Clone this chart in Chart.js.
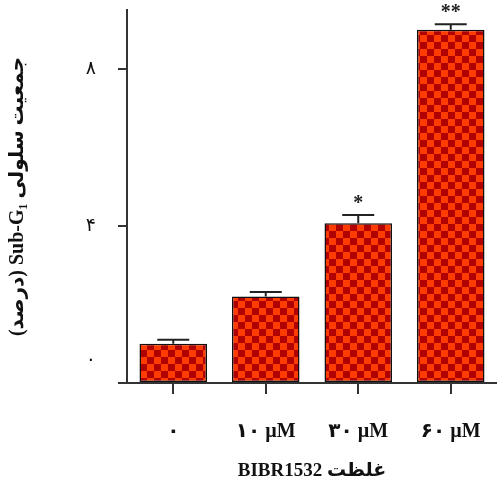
<!DOCTYPE html>
<html><head><meta charset="utf-8">
<script src="https://cdn.jsdelivr.net/npm/chart.js@4.4.1/dist/chart.umd.min.js"></script>
<style>html,body{margin:0;padding:0;background:#fff}#wrap{width:497px;height:488px}</style>
</head><body><div id="wrap"><canvas id="c" width="497" height="488"></canvas></div>
<script>
const categories = ['۰', '۱۰ µM', '۳۰ µM', '۶۰ µM'];
const values = [1.0, 2.2, 4.07, 9.0];
const errors = [0.1, 0.12, 0.21, 0.14];
const significance = ['', '', '*', '**'];
const yTicks = [0, 4, 8];
const yTickLabels = ['۰', '۴', '۸'];
const yTitle = '(درصد) Sub-G₁ جمعیت سلولی';
const xTitle = 'BIBR1532 غلظت';

function makePattern() {
  const s = 7;
  const p = document.createElement('canvas');
  p.width = s * 2; p.height = s * 2;
  const g = p.getContext('2d');
  g.fillStyle = '#ff3c00'; g.fillRect(0, 0, s * 2, s * 2);
  g.fillStyle = '#b00000';
  g.fillRect(0, 0, s, s); g.fillRect(s, s, s, s);
  return document.getElementById('c').getContext('2d').createPattern(p, 'repeat');
}

const FONT = "'Liberation Serif', 'Times New Roman', 'DejaVu Sans', serif";

const errPlugin = {
  id: 'errbars',
  afterDatasetsDraw(chart) {
    const ctx = chart.ctx;
    const meta = chart.getDatasetMeta(0);
    const y = chart.scales.y;
    ctx.save();
    ctx.strokeStyle = '#222';
    ctx.lineWidth = 2;
    meta.data.forEach((bar, i) => {
      const top = y.getPixelForValue(values[i] + errors[i]);
      const base = y.getPixelForValue(values[i]);
      ctx.beginPath();
      ctx.moveTo(bar.x, base); ctx.lineTo(bar.x, top);
      ctx.moveTo(bar.x - 16, top); ctx.lineTo(bar.x + 16, top);
      ctx.stroke();
      if (significance[i]) {
        ctx.fillStyle = '#222';
        ctx.font = "bold 20px " + FONT;
        ctx.textAlign = 'center';
        ctx.textBaseline = 'middle';
        ctx.fillText(significance[i], bar.x, top - 11);
      }
    });
    ctx.restore();
  }
};

new Chart(document.getElementById('c'), {
  type: 'bar',
  data: {
    labels: categories,
    datasets: [{
      data: values,
      backgroundColor: makePattern(),
      borderColor: '#111',
      borderWidth: 1.5,
      borderSkipped: false,
      barPercentage: 0.73,
      categoryPercentage: 1.0
    }]
  },
  options: {
    responsive: false,
    animation: false,
    devicePixelRatio: 1,
    layout: { padding: { top: 10, right: 0, left: 0, bottom: 0 } },
    plugins: { legend: { display: false }, tooltip: { enabled: false } },
    scales: {
      x: {
        grid: { display: true, offset: false, drawOnChartArea: false, drawTicks: true, tickLength: 11, color: '#333', lineWidth: 2 },
        border: { display: true, color: '#333', width: 2 },
        ticks: { color: '#111', padding: 26, font: { family: FONT, size: 20, weight: 'bold' } },
        title: { display: true, text: xTitle, color: '#111', padding: { top: 0, bottom: 6 }, font: { family: FONT, size: 19, weight: 'bold' } },
        afterFit(s) { s.height = 105; s.paddingLeft = 0; s.paddingRight = 0; }
      },
      y: {
        min: 0, max: 9.5,
        afterBuildTicks(s) { s.ticks = yTicks.map(v => ({ value: v })); },
        grid: { display: true, drawOnChartArea: false, drawTicks: true, tickLength: 9, color: '#333', lineWidth: 2 },
        border: { display: true, color: '#333', width: 2 },
        ticks: { color: '#111', padding: 22, font: { family: FONT, size: 19 },
          callback(v) { const i = yTicks.indexOf(v); if (i < 0) return ''; return v === 0 ? [yTickLabels[i], '', ''] : yTickLabels[i]; } },
        title: { display: true, text: yTitle, color: '#111', padding: { top: 6, bottom: 0 }, font: { family: FONT, size: 20, weight: 'bold' } },
        afterFit(s) { s.width = 127; s.paddingTop = 0; s.paddingBottom = 0; }
      }
    }
  },
  plugins: [errPlugin]
});
</script></body></html>
